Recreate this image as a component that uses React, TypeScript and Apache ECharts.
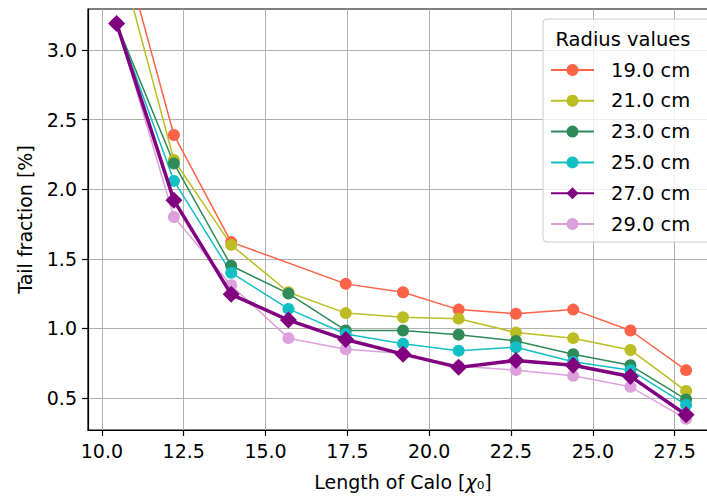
import { useEffect, useRef } from "react";
import * as echarts from "echarts";

// Calorimeter length in radiation lengths (X0)
const lengths = [10.45, 12.2, 13.95, 15.7, 17.45, 19.2, 20.9, 22.65, 24.4, 26.15, 27.85];

const radiusLabels = ["19.0 cm", "21.0 cm", "23.0 cm", "25.0 cm", "27.0 cm", "29.0 cm"];

// Tail fraction [%] per radius
const tail19 = [3.9, 2.39, 1.62, null, 1.32, 1.26, 1.135, 1.105, 1.135, 0.985, 0.7];
const tail21 = [3.75, 2.21, 1.6, 1.26, 1.11, 1.08, 1.07, 0.97, 0.93, 0.845, 0.55];
const tail23 = [3.19, 2.185, 1.45, 1.25, 0.985, 0.985, 0.955, 0.91, 0.815, 0.735, 0.49];
const tail25 = [3.19, 2.06, 1.4, 1.14, 0.96, 0.89, 0.84, 0.865, 0.76, 0.7, 0.45];
const tail27 = [3.19, 1.92, 1.245, 1.06, 0.92, 0.815, 0.72, 0.77, 0.735, 0.655, 0.38];
const tail29 = [3.19, 1.8, 1.31, 0.93, 0.85, 0.82, 0.73, 0.7, 0.66, 0.58, 0.35];

const xTicks = [10, 12.5, 15, 17.5, 20, 22.5, 25, 27.5];
const yTicks = [0.5, 1.0, 1.5, 2.0, 2.5, 3.0];

const FONT = "DejaVu Sans";

const seriesDefs = [
  { values: tail19, color: "#ff6347", symbol: "circle", size: 12, width: 1.5, z: 2 },
  { values: tail21, color: "#bcbd22", symbol: "circle", size: 12, width: 1.5, z: 2 },
  { values: tail23, color: "#2e8b57", symbol: "circle", size: 12, width: 1.5, z: 2 },
  { values: tail25, color: "#12bfc4", symbol: "circle", size: 12, width: 1.5, z: 2 },
  { values: tail27, color: "#800080", symbol: "diamond", size: 17, width: 3.5, z: 3 },
  { values: tail29, color: "#dda0dd", symbol: "circle", size: 12, width: 1.5, z: 2 },
];

export default function App() {
  const ref = useRef<HTMLDivElement>(null);

  useEffect(() => {
    if (!ref.current) return;
    const chart = echarts.init(ref.current, null, { renderer: "svg" });

    const series = seriesDefs.map((d, i) => ({
      name: radiusLabels[i],
      type: "line",
      z: d.z,
      data: lengths.map((x, k) => [x, d.values[k] === null ? "-" : d.values[k]]),
      connectNulls: true,
      symbol: d.symbol,
      symbolSize: d.size,
      showSymbol: true,
      color: d.color,
      itemStyle: { color: d.color },
      lineStyle: { color: d.color, width: d.width },
      clip: true,
    }));

    chart.setOption({
      animation: false,
      backgroundColor: "#ffffff",
      grid: {
        left: 88,
        top: 9,
        width: 630,
        height: 421,
        show: true,
        borderColor: "#000000",
        borderWidth: 1.2,
        containLabel: false,
        outerBoundsMode: "none",
      },
      xAxis: {
        type: "value",
        min: 9.575,
        max: 28.825,
        axisLine: { show: true, onZero: false, lineStyle: { color: "#000", width: 1.2 } },
        axisTick: { show: true, customValues: xTicks, length: 6, lineStyle: { color: "#000", width: 1.2 } },
        axisLabel: {
          customValues: xTicks,
          formatter: (v: number) => v.toFixed(1),
          fontSize: 19,
          color: "#000",
          fontFamily: FONT,
          margin: 11,
        },
        splitLine: { show: true, lineStyle: { color: "#b0b0b0", width: 1 } },
        name: "Length of Calo [{i|χ}₀]",
        nameLocation: "middle",
        nameGap: 42,
        nameTextStyle: {
          fontSize: 19,
          color: "#000",
          fontFamily: FONT,
          rich: { i: { fontStyle: "italic", fontSize: 19, fontFamily: FONT, color: "#000" } },
        },
      },
      yAxis: {
        type: "value",
        min: 0.27,
        max: 3.295,
        axisLine: { show: true, onZero: false, lineStyle: { color: "#000", width: 1.2 } },
        axisTick: { show: true, customValues: yTicks, length: 6, lineStyle: { color: "#000", width: 1.2 } },
        axisLabel: {
          customValues: yTicks,
          formatter: (v: number) => v.toFixed(1),
          fontSize: 19,
          color: "#000",
          fontFamily: FONT,
          margin: 11,
        },
        splitLine: { show: true, lineStyle: { color: "#b0b0b0", width: 1 } },
        name: "Tail fraction [%]",
        nameLocation: "middle",
        nameGap: 54,
        nameRotate: 90,
        nameTextStyle: { fontSize: 19, color: "#000", fontFamily: FONT },
      },
      legend: {
        data: radiusLabels,
        orient: "vertical",
        left: 550,
        top: 60,
        padding: 0,
        itemWidth: 43,
        itemHeight: 15,
        itemGap: 10.8,
        selectedMode: false,
        z: 5,
        textStyle: {
          fontSize: 19.5,
          color: "#000",
          fontFamily: FONT,
          lineHeight: 15,
          padding: [0, 0, 0, 12],
        },
      },
      graphic: [
        {
          type: "rect",
          z: 3,
          shape: { x: 543, y: 19, width: 180, height: 223, r: 4 },
          style: { fill: "rgba(255,255,255,0.8)", stroke: "#cccccc", lineWidth: 1 },
        },
        {
          type: "text",
          z: 5,
          x: 623,
          y: 39,
          style: {
            text: "Radius values",
            fontSize: 19.5,
            fontFamily: FONT,
            fill: "#000",
            align: "center",
            verticalAlign: "middle",
          },
        },
      ],
      series,
    });

    return () => chart.dispose();
  }, []);

  return (
    <div
      ref={ref}
      style={{ position: "fixed", left: 0, top: 0, width: 730, height: 497, background: "#fff" }}
    />
  );
}
